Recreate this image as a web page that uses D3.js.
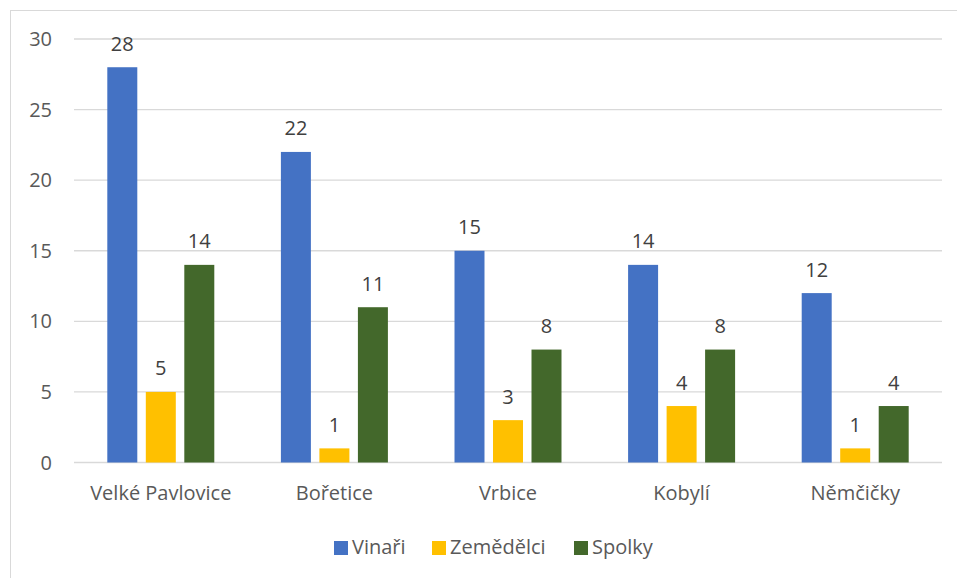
<!DOCTYPE html>
<html lang="cs">
<head>
  <meta charset="UTF-8">
  <title>bar chart</title>
  <style>
    body { margin: 0; background: #fff; }
    text { font-family: "Open Sans", "Noto Sans", sans-serif; }
  </style>
</head>
<body>
  <script src="https://cdn.jsdelivr.net/npm/d3@7"></script>
  <script>
    // data
    var categories = ["Velké Pavlovice", "Bořetice", "Vrbice", "Kobylí", "Němčičky"];
    var series = ["Vinaři", "Zemědělci", "Spolky"];
    var vinari = [28, 22, 15, 14, 12];
    var zemedelci = [5, 1, 3, 4, 1];
    var spolky = [14, 11, 8, 8, 4];
    var yTicks = [0, 5, 10, 15, 20, 25, 30];
    var colors = ["#4472C4", "#FFC000", "#43682B"];

    var values = [vinari, zemedelci, spolky];
    var width = 957, height = 578;
    var plot = {left: 74, right: 942, top: 39, bottom: 462.5};
    var fontSize = "20px";

    var svg = d3.select("body").append("svg")
      .attr("width", width)
      .attr("height", height);

    // outer border of chart area
    svg.append("rect")
      .attr("x", 10.5).attr("y", 10.5)
      .attr("width", 960).attr("height", 580)
      .attr("fill", "none")
      .attr("stroke", "#d9d9d9");

    var x0 = d3.scaleBand().domain(categories).range([plot.left, plot.right]);
    var x1 = d3.scaleBand().domain(series).range([0, x0.bandwidth()])
      .paddingInner(0.221).paddingOuter(0.865);
    var y = d3.scaleLinear().domain([0, 30]).range([plot.bottom, plot.top]);

    // gridlines
    svg.selectAll("line.grid")
      .data(yTicks)
      .enter()
      .append("line")
      .attr("class", "grid")
      .attr("x1", plot.left).attr("x2", plot.right)
      .attr("y1", function(d){ return y(d); })
      .attr("y2", function(d){ return y(d); })
      .attr("stroke", "#d9d9d9")
      .attr("stroke-width", 1.3);

    // y labels
    svg.selectAll("text.ytick")
      .data(yTicks)
      .enter()
      .append("text")
      .attr("class", "ytick")
      .attr("x", 52)
      .attr("y", function(d){ return y(d); })
      .attr("dy", "0.35em")
      .attr("text-anchor", "end")
      .attr("font-size", fontSize)
      .attr("fill", "#595959")
      .text(function(d){ return d; });

    // x labels
    svg.selectAll("text.xtick")
      .data(categories)
      .enter()
      .append("text")
      .attr("class", "xtick")
      .attr("x", function(d){ return x0(d) + x0.bandwidth() / 2; })
      .attr("y", 500)
      .attr("text-anchor", "middle")
      .attr("font-size", fontSize)
      .attr("fill", "#595959")
      .text(function(d){ return d; });

    // bars
    var groups = svg.selectAll("g.group")
      .data(categories)
      .enter()
      .append("g")
      .attr("class", "group")
      .attr("transform", function(d){ return "translate(" + x0(d) + ",0)"; });

    function rows(d, i) {
      return series.map(function(s, j){ return {s: s, j: j, v: values[j][i]}; });
    }

    groups.selectAll("rect")
      .data(rows)
      .enter()
      .append("rect")
      .attr("x", function(d){ return x1(d.s); })
      .attr("y", function(d){ return y(d.v); })
      .attr("width", x1.bandwidth())
      .attr("height", function(d){ return y(0) - y(d.v); })
      .attr("fill", function(d){ return colors[d.j]; });

    groups.selectAll("text")
      .data(rows)
      .enter()
      .append("text")
      .attr("x", function(d){ return x1(d.s) + x1.bandwidth() / 2; })
      .attr("y", function(d){ return y(d.v) - 16.5; })
      .attr("text-anchor", "middle")
      .attr("font-size", fontSize)
      .attr("fill", "#404040")
      .text(function(d){ return d.v; });

    // legend
    var legendX = [334, 432, 574];
    var legend = svg.selectAll("g.legend")
      .data(series)
      .enter()
      .append("g")
      .attr("class", "legend")
      .attr("transform", function(d, i){ return "translate(" + legendX[i] + ",541)"; });
    legend.append("rect")
      .attr("width", 14).attr("height", 14)
      .attr("fill", function(d, i){ return colors[i]; });
    legend.append("text")
      .attr("x", 18).attr("y", 13)
      .attr("font-size", fontSize)
      .attr("fill", "#595959")
      .text(function(d){ return d; });
  </script>
</body>
</html>
